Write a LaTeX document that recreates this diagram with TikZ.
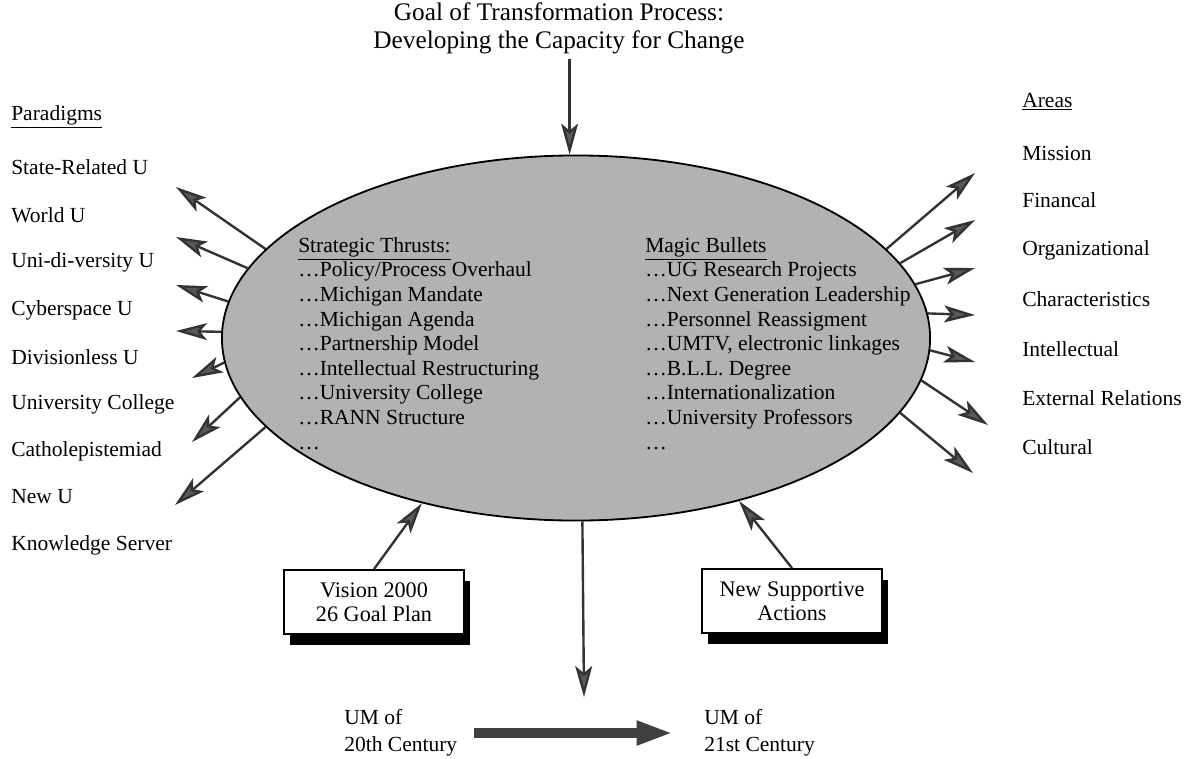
\documentclass[tikz,border=0pt]{standalone}
\usepackage{fontspec}
\setmainfont{Liberation Serif}
\usetikzlibrary{shapes.geometric, arrows.meta, shadows}

\begin{document}
\begin{tikzpicture}[x=0.025cm, y=0.025cm,
    lbl/.style={anchor=west, inner sep=0pt, font=\fontsize{15.3}{19}\selectfont},
    inside/.style={anchor=north west, align=left, inner sep=0pt, font=\fontsize{15.3}{17.5}\selectfont},
    spoke/.style={draw=black!80, line width=1.7pt, -{Stealth[length=22pt, width=12pt, inset=5pt, fill=black!65]}},
    bigarrow/.style={draw=black!75, line width=7pt, -{Triangle[length=26pt, width=16pt, fill=black!75]}},
    planbox/.style={draw, line width=1.3pt, fill=white, minimum width=4.5cm, minimum height=1.6cm, align=center,
        font=\fontsize{15.8}{17}\selectfont, drop shadow={shadow xshift=0.15cm, shadow yshift=-0.28cm, fill=black, opacity=1}}]

    \useasboundingbox (0,0) rectangle (1188,-758);

    % Title on top
    \node[align=center, font=\fontsize{18}{20}\selectfont] (title) at (559,-28)
        {Goal of Transformation Process:\\Developing the Capacity for Change};

    % Draw the ellipse
    \node[ellipse, draw, line width=1.3pt, fill=black!30, minimum width=17.7cm, minimum height=9.125cm, inner sep=0pt] (core) at (576,-338) {};

    % Texts inside the ellipse
    \node[inside] (thrusts) at (298,-237) {\underline{Strategic Thrusts:}\\
        \dots Policy/Process Overhaul\\ \dots Michigan Mandate\\ \dots Michigan Agenda\\
        \dots Partnership Model\\ \dots Intellectual Restructuring\\ \dots University College\\
        \dots RANN Structure\\ \dots};
    \node[inside] (bullets) at (645,-237) {\underline{Magic Bullets}\\
        \dots UG Research Projects\\ \dots Next Generation Leadership\\ \dots Personnel Reassigment\\
        \dots UMTV, electronic linkages\\ \dots B.L.L. Degree\\ \dots Internationalization\\
        \dots University Professors\\ \dots};

    % Label the paradigms
    \node[lbl] (paradigms) at (11,-117) {\underline{Paradigms}};
    \node[lbl] (state) at (11,-167) {State-Related U};
    \node[lbl] (world) at (11,-215) {World U};
    \node[lbl] (unidiv) at (11,-262) {Uni-di-versity U};
    \node[lbl] (cyber) at (11,-310) {Cyberspace U};
    \node[lbl] (divless) at (11,-357) {Divisionless U};
    \node[lbl] (ucollege) at (11,-404) {University College};
    \node[lbl] (cathol) at (11,-451) {Catholepistemiad};
    \node[lbl] (newu) at (11,-497) {New U};
    \node[lbl] (kserver) at (11,-545) {Knowledge Server};

    % Label the areas
    \node[lbl] (areas) at (1022,-102) {\underline{Areas}};
    \node[lbl] (mission) at (1022,-153) {Mission};
    \node[lbl] (financal) at (1022,-200) {Financal};
    \node[lbl] (organiz) at (1022,-250) {Organizational};
    \node[lbl] (charact) at (1022,-299) {Characteristics};
    \node[lbl] (intellect) at (1022,-349) {Intellectual};
    \node[lbl] (external) at (1022,-398) {External Relations};
    \node[lbl] (cultural) at (1022,-447) {Cultural};

    % Ends of the spokes
    \coordinate (pl1) at (176,-187);
    \coordinate (pl2) at (176,-237);
    \coordinate (pl3) at (176,-285);
    \coordinate (pl4) at (176,-331);
    \coordinate (pl5) at (192,-378);
    \coordinate (pl6) at (192,-442);
    \coordinate (pl7) at (175,-505);
    \coordinate (pr1) at (975,-173);
    \coordinate (pr2) at (975,-220);
    \coordinate (pr3) at (975,-268);
    \coordinate (pr4) at (975,-315);
    \coordinate (pr5) at (975,-362);
    \coordinate (pr6) at (988,-425);
    \coordinate (pr7) at (973,-473);

    % Draw the spokes
    \draw[spoke] (core.164) -- (pl1);
    \draw[spoke] (core.168) -- (pl2);
    \draw[spoke] (core.174) -- (pl3);
    \draw[spoke] (core.179) -- (pl4);
    \draw[spoke] (core.184) -- (pl5);
    \draw[spoke] (core.190) -- (pl6);
    \draw[spoke] (core.196) -- (pl7);
    \draw[spoke] (core.16) -- (pr1);
    \draw[spoke] (core.13) -- (pr2);
    \draw[spoke] (core.9) -- (pr3);
    \draw[spoke] (core.4.5) -- (pr4);
    \draw[spoke] (core.358.5) -- (pr5);
    \draw[spoke] (core.353) -- (pr6);
    \draw[spoke] (core.347) -- (pr7);

    % Goal arrow and outcome arrow
    \draw[spoke] (title.south -| core.92) -- (core.92);
    \coordinate (down) at (584,-697);
    \draw[spoke] (core.272) -- (down);

    % The two boxes
    \node[planbox] (vision) at (374,-602) {Vision 2000\\26 Goal Plan};
    \node[planbox] (newact) at (792,-601) {New Supportive\\Actions};
    \draw[spoke] (vision.north) -- (core.227);
    \draw[spoke] (newact.north) -- (core.315);

    % From one century to the next
    \node[lbl, align=left] (um20) at (344,-733) {UM of\\20th Century};
    \node[lbl, align=left] (um21) at (704,-733) {UM of\\21st Century};
    \draw[bigarrow, shorten <=12pt, shorten >=22pt] (um20.east) -- (um20.east -| um21.west);

\end{tikzpicture}
\end{document}
